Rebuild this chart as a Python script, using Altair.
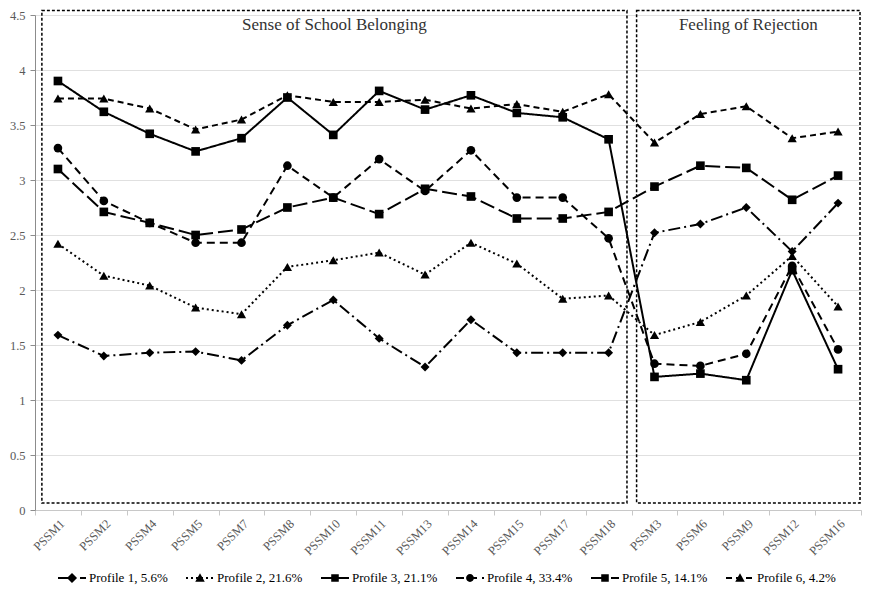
import altair as alt
import pandas as pd

categories = ["PSSM1", "PSSM2", "PSSM4", "PSSM5", "PSSM7", "PSSM8", "PSSM10", "PSSM11",
              "PSSM13", "PSSM14", "PSSM15", "PSSM17", "PSSM18", "PSSM3", "PSSM6", "PSSM9",
              "PSSM12", "PSSM16"]
profiles = ["Profile 1, 5.6%", "Profile 2, 21.6%", "Profile 3, 21.1%",
            "Profile 4, 33.4%", "Profile 5, 14.1%", "Profile 6, 4.2%"]
p1 = [1.59, 1.40, 1.43, 1.44, 1.36, 1.68, 1.91, 1.56, 1.30, 1.73, 1.43, 1.43, 1.43, 2.52, 2.60, 2.75, 2.35, 2.79]
p2 = [2.42, 2.13, 2.04, 1.84, 1.78, 2.21, 2.27, 2.34, 2.14, 2.43, 2.24, 1.92, 1.95, 1.59, 1.71, 1.95, 2.31, 1.85]
p3 = [3.90, 3.62, 3.42, 3.26, 3.38, 3.75, 3.41, 3.81, 3.64, 3.77, 3.61, 3.57, 3.37, 1.21, 1.24, 1.18, 2.18, 1.28]
p4 = [3.29, 2.81, 2.61, 2.43, 2.43, 3.13, 2.84, 3.19, 2.90, 3.27, 2.84, 2.84, 2.47, 1.33, 1.31, 1.42, 2.22, 1.46]
p5 = [3.10, 2.71, 2.61, 2.50, 2.55, 2.75, 2.84, 2.69, 2.92, 2.85, 2.65, 2.65, 2.71, 2.94, 3.13, 3.11, 2.82, 3.04]
p6 = [3.74, 3.74, 3.65, 3.46, 3.55, 3.77, 3.71, 3.71, 3.73, 3.65, 3.69, 3.62, 3.78, 3.34, 3.60, 3.67, 3.38, 3.44]
section_titles = ["Sense of School Belonging", "Feeling of Rejection"]

series = [p1, p2, p3, p4, p5, p6]
rows = []
for prof, vals in zip(profiles, series):
    for i, (c, v) in enumerate(zip(categories, vals)):
        rows.append({"profile": prof, "item": c, "idx": i, "value": v})
df = pd.DataFrame(rows)

W, H = 826, 495
bw = W / len(categories)

dashes = [[12, 4, 2, 4], [2, 3], [1, 0], [8, 5], [15, 5], [6, 4]]
shapes = ["diamond", "triangle-up", "square", "circle", "square", "triangle-up"]

# legend symbol paths: dashed line drawn as filled pieces + marker, unit box -1..1
SYM = 28.0          # symbol width in px
U = SYM / 2.0       # px per unit
T = 1.0 / U         # half line thickness in units


def dash_path(d):
    if d[1] == 0:
        return "M-1,%.3fH1V%.3fH-1Z" % (-T, T)
    parts = []
    pos = -SYM / 2
    i = 0
    while pos < SYM / 2:
        seg = d[i % len(d)]
        if i % 2 == 0:
            a = pos / U
            b = min(pos + seg, SYM / 2) / U
            parts.append("M%.3f,%.3fH%.3fV%.3fH%.3fZ" % (a, -T, b, T, a))
        pos += seg
        i += 1
    return "".join(parts)


marker_paths = {
    "diamond": "M0,-0.36L0.36,0L0,0.36L-0.36,0Z",
    "triangle-up": "M0,-0.34L0.34,0.26L-0.34,0.26Z",
    "square": "M-0.27,-0.27H0.27V0.27H-0.27Z",
    "circle": "M-0.28,0A0.28,0.28 0 1,1 0.28,0A0.28,0.28 0 1,1 -0.28,0Z",
}
sym_paths = [dash_path(d) + marker_paths[s] for d, s in zip(dashes, shapes)]

serif = "Liberation Serif"

x_enc = alt.X("item:N", sort=categories, bandPosition=0.5,
              scale=alt.Scale(type="band", paddingInner=0, paddingOuter=0),
              axis=alt.Axis(title=None, labelAngle=-45, tickBand="extent", grid=False,
                            labelFont=serif, labelFontSize=12.5, labelColor="#595959",
                            domainColor="#c8c8c8", tickColor="#c8c8c8", tickSize=5,
                            labelPadding=2))
y_enc = alt.Y("value:Q", scale=alt.Scale(domain=[0, 4.5], nice=False),
              axis=alt.Axis(title=None, values=[0, 0.5, 1, 1.5, 2, 2.5, 3, 3.5, 4, 4.5],
                            format="~g", labelFont=serif, labelFontSize=12.5,
                            labelColor="#595959", gridColor="#e0e0e0", domainColor="#8c8c8c",
                            tickColor="#8c8c8c", tickSize=5, labelPadding=5))

base = alt.Chart(df)

lines = base.mark_line(strokeWidth=2, color="black").encode(
    x=x_enc, y=y_enc,
    order=alt.Order("idx:Q"),
    strokeDash=alt.StrokeDash("profile:N", sort=profiles,
                              scale=alt.Scale(domain=profiles, range=dashes), legend=None),
)


def marker_layer(shape, profs, size):
    return base.transform_filter(
        alt.FieldOneOfPredicate(field="profile", oneOf=profs)
    ).mark_point(filled=True, color="black", opacity=1, size=size, shape=shape).encode(
        x=x_enc, y=y_enc)


pts_d = marker_layer("diamond", [profiles[0]], 80)
pts_t = marker_layer("triangle-up", [profiles[1], profiles[5]], 85)
pts_s = marker_layer("square", [profiles[2], profiles[4]], 75)
pts_c = marker_layer("circle", [profiles[3]], 75)

# invisible layer that only supplies the legend (line + marker symbols)
legend_layer = base.mark_point(
    filled=True, color="black", strokeWidth=0, opacity=0
).encode(
    x=x_enc, y=y_enc,
    shape=alt.Shape("profile:N", sort=profiles,
                    scale=alt.Scale(domain=profiles, range=sym_paths),
                    legend=alt.Legend(title=None, orient="none", legendX=23, legendY=H + 54)),
)

one = alt.Data(values=[{}])
box_top = -4.5
box_bot = H - 7
split = 13 * bw
box1 = alt.Chart(one).mark_rect(fill=None, stroke="black", strokeWidth=1.5,
                                strokeDash=[3, 2]).encode(
    x=alt.value(0.15 * bw), x2=alt.value(split - 0.1 * bw),
    y=alt.value(box_top), y2=alt.value(box_bot))
box2 = alt.Chart(one).mark_rect(fill=None, stroke="black", strokeWidth=1.5,
                                strokeDash=[3, 2]).encode(
    x=alt.value(split + 0.11 * bw), x2=alt.value(W - 1),
    y=alt.value(box_top), y2=alt.value(box_bot))

t1 = alt.Chart(one).mark_text(font=serif, fontSize=17, color="#333333").encode(
    x=alt.value((0.15 * bw + split - 0.1 * bw) / 2), y=alt.value(10),
    text=alt.value(section_titles[0]))
t2 = alt.Chart(one).mark_text(font=serif, fontSize=17, color="#333333").encode(
    x=alt.value((split + 0.11 * bw + W - 1) / 2), y=alt.value(10),
    text=alt.value(section_titles[1]))

chart = alt.layer(box1, box2, t1, t2, legend_layer, lines, pts_d, pts_t, pts_s, pts_c).properties(
    width=W, height=H,
    autosize=alt.AutoSizeParams(type="none"),
    padding={"left": 27, "top": 7, "right": 1, "bottom": 80},
).configure_view(stroke=None).configure_legend(
    direction="horizontal", columns=6,
    labelFont=serif, labelFontSize=13, labelColor="black",
    symbolSize=SYM * SYM, symbolStrokeWidth=0,
    symbolFillColor="black", symbolOpacity=1,
    columnPadding=18, labelOffset=3,
)

chart.save("out.html", embed_options={"renderer": "svg", "actions": False})
